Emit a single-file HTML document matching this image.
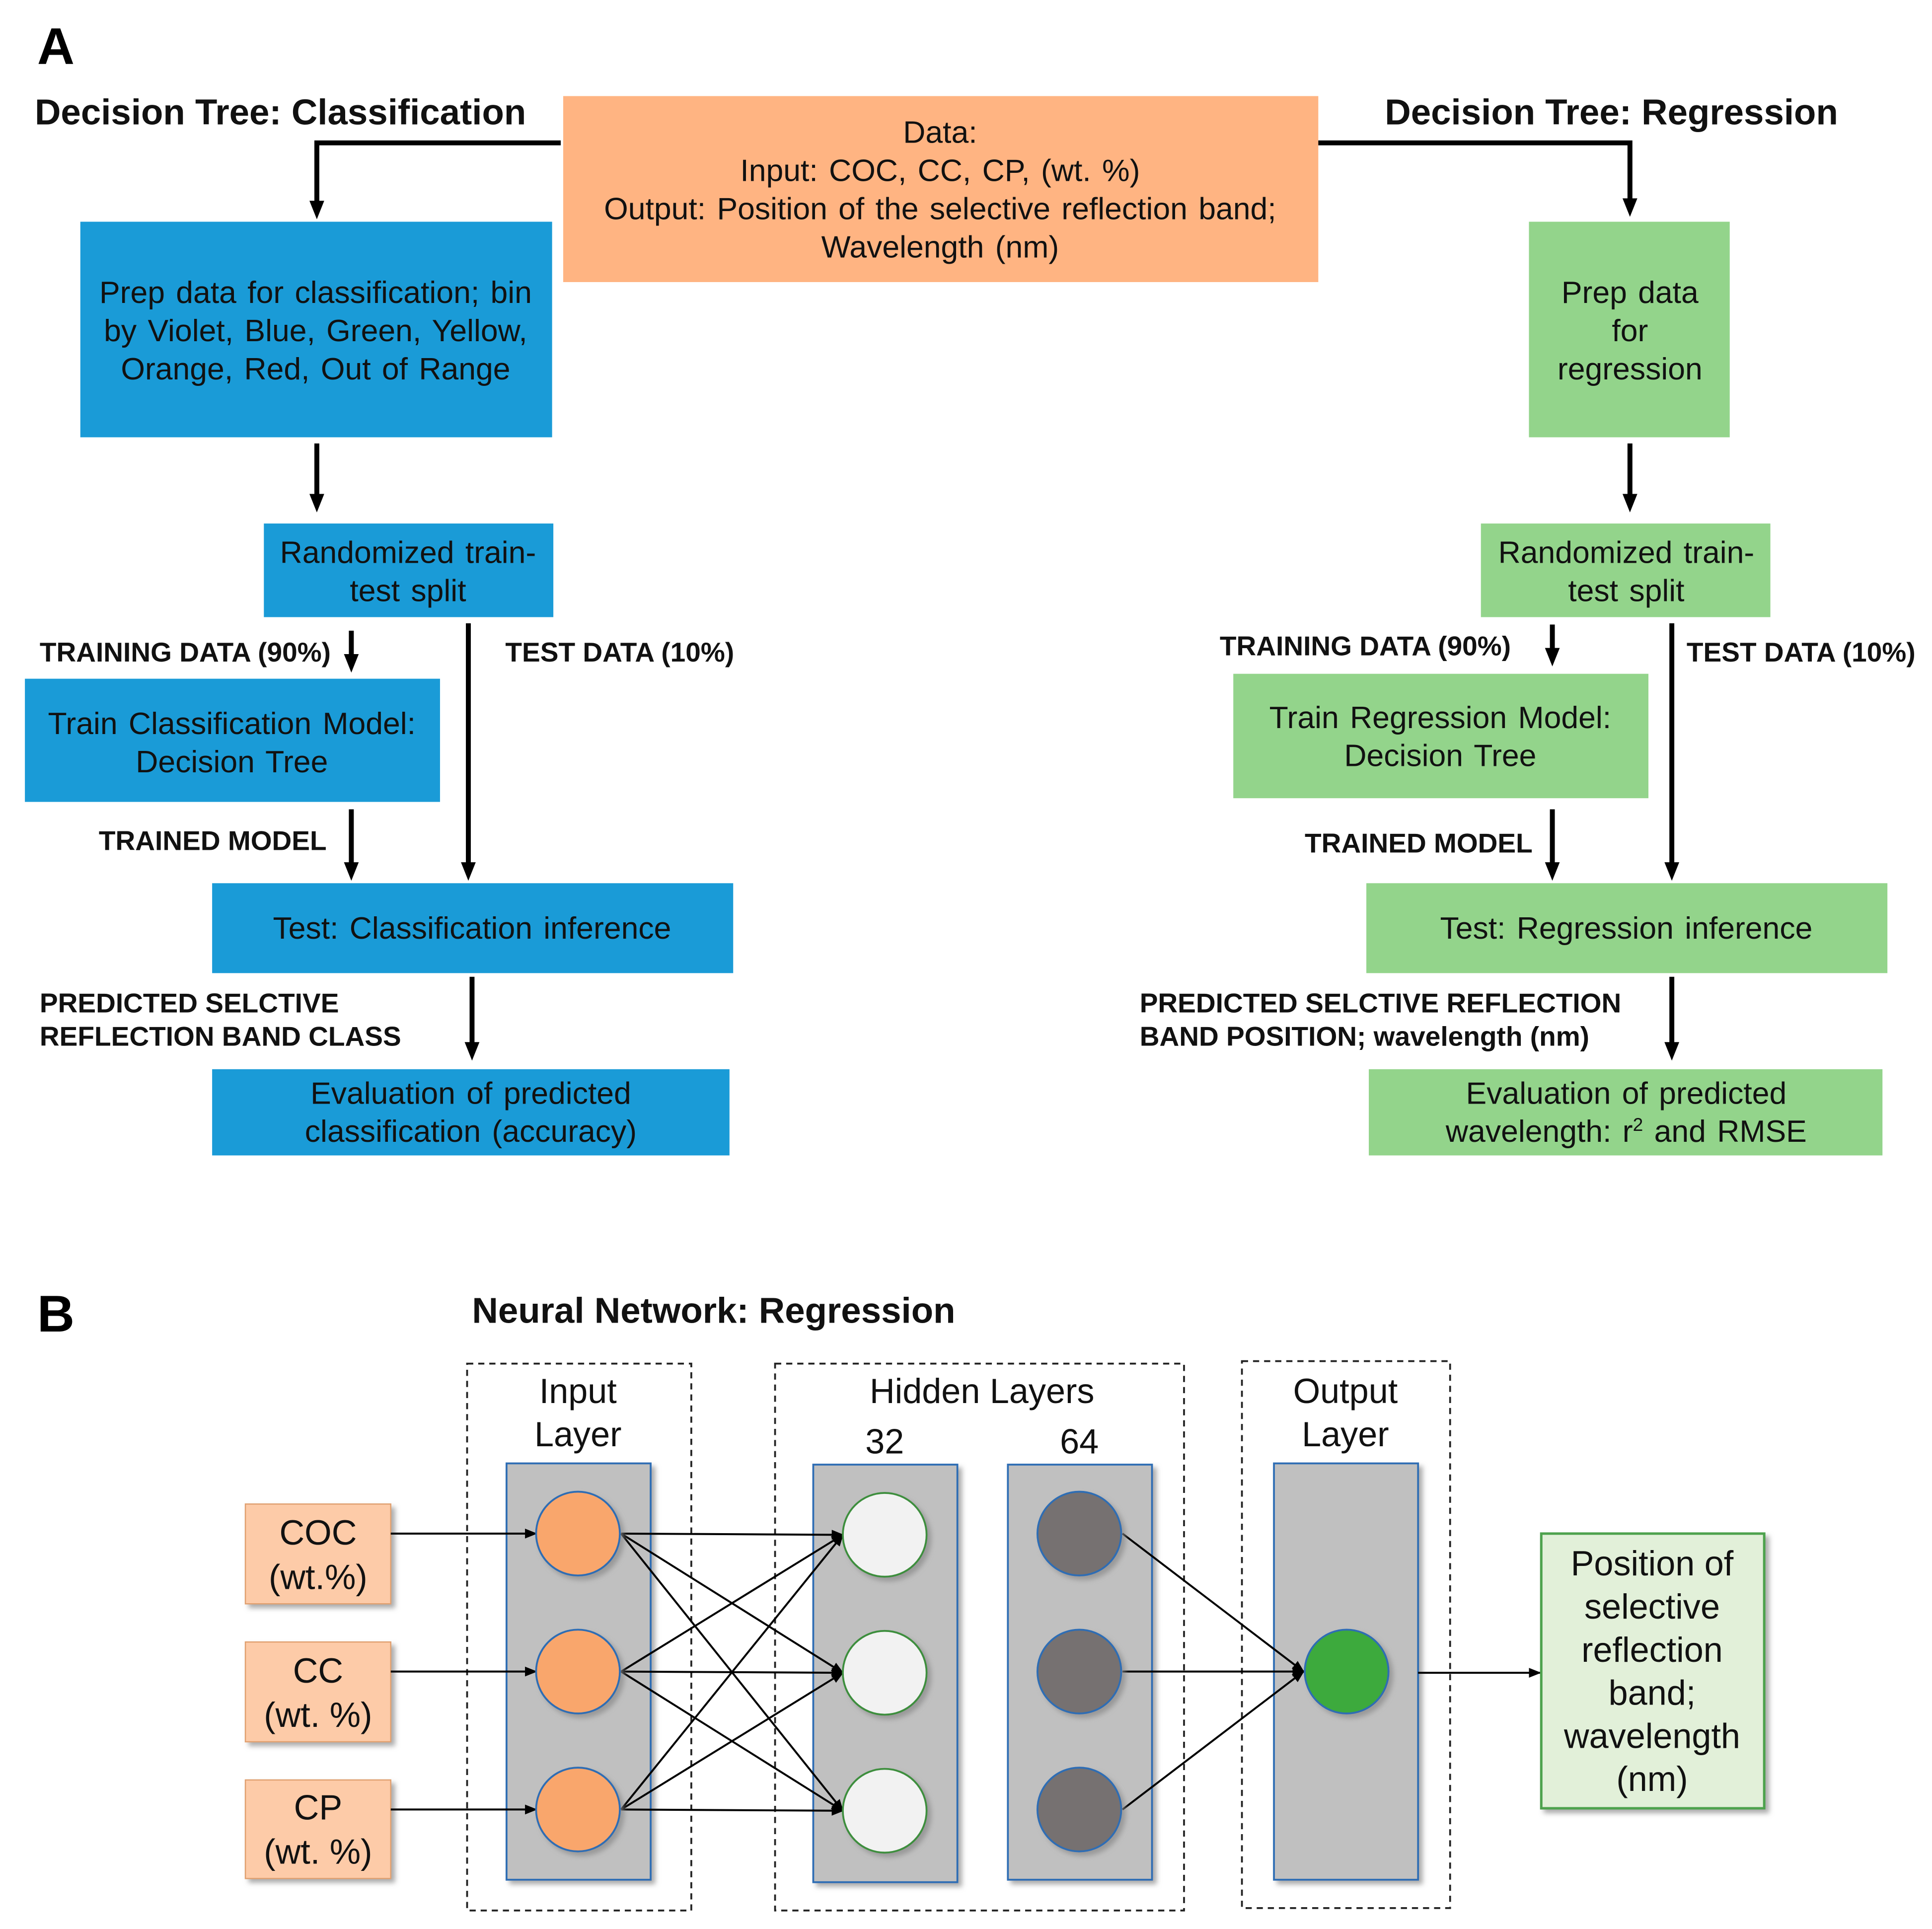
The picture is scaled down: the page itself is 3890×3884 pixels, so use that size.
<!DOCTYPE html>
<html><head><meta charset="utf-8"><style>
html,body{margin:0;padding:0;background:#fff;}
svg{display:block;}
text{font-family:"Liberation Sans",Arial,sans-serif;}
.t{font-size:25.2px;fill:#111;text-anchor:middle;word-spacing:2px;}
.b{font-size:22.2px;font-weight:bold;fill:#111;}
.h{font-size:29.3px;font-weight:bold;fill:#111;}
.n{font-size:28.3px;fill:#111;text-anchor:middle;}
</style></head><body>
<svg width="3890" height="3884" viewBox="0 0 1568 1566" xmlns="http://www.w3.org/2000/svg">
<defs>
<marker id="as" markerWidth="10" markerHeight="10" refX="9" refY="5" orient="auto" markerUnits="userSpaceOnUse"><path d="M0,1 L10,5 L0,9 z" fill="#000"/></marker>
<filter id="sh" x="-10%" y="-10%" width="130%" height="130%"><feDropShadow dx="3" dy="3" stdDeviation="2" flood-color="#888" flood-opacity="0.7"/></filter>
</defs>
<rect width="1568" height="1566" fill="#fff"/>
<text x="30" y="52" style="font-size:42px;font-weight:bold">A</text>
<text x="28" y="101" class="h">Decision Tree: Classification</text>
<text x="1124" y="101" class="h">Decision Tree: Regression</text>
<rect x="457" y="78" width="613" height="151" fill="#FFB482"/>
<text class="t" x="763" y="116">Data:</text>
<text class="t" x="763" y="147">Input: COC, CC, CP, (wt. %)</text>
<text class="t" x="763" y="178">Output: Position of the selective reflection band;</text>
<text class="t" x="763" y="209">Wavelength (nm)</text>
<g stroke="#000" stroke-width="4" fill="none">
<polyline points="455,116 257,116 257,165"/>
<polyline points="1070,116 1323,116 1323,163"/>
<line x1="257" y1="360" x2="257" y2="403"/>
<line x1="1323" y1="360" x2="1323" y2="403"/>
<line x1="285" y1="512" x2="285" y2="533"/>
<line x1="380" y1="506" x2="380" y2="702"/>
<line x1="285" y1="657" x2="285" y2="702"/>
<line x1="383" y1="793" x2="383" y2="848"/>
<line x1="1260" y1="507" x2="1260" y2="528"/>
<line x1="1357" y1="506" x2="1357" y2="702"/>
<line x1="1260" y1="657" x2="1260" y2="702"/>
<line x1="1357" y1="793" x2="1357" y2="848"/>
</g>
<g fill="#000">
<path d="M251,163 L263,163 L257,178 z"/>
<path d="M1317,161 L1329,161 L1323,176 z"/>
<path d="M251,401 L263,401 L257,416 z"/>
<path d="M1317,401 L1329,401 L1323,416 z"/>
<path d="M279,531 L291,531 L285,546 z"/>
<path d="M374,700 L386,700 L380,715 z"/>
<path d="M279,700 L291,700 L285,715 z"/>
<path d="M377,846 L389,846 L383,861 z"/>
<path d="M1254,526 L1266,526 L1260,541 z"/>
<path d="M1351,700 L1363,700 L1357,715 z"/>
<path d="M1254,700 L1266,700 L1260,715 z"/>
<path d="M1351,846 L1363,846 L1357,861 z"/>
</g>
<g fill="#1A9BD7">
<rect x="65" y="180" width="383" height="175"/>
<rect x="214" y="425" width="235" height="76"/>
<rect x="20" y="551" width="337" height="100"/>
<rect x="172" y="717" width="423" height="73"/>
<rect x="172" y="868" width="420" height="70"/>
</g>
<g fill="#93D48B">
<rect x="1241" y="180" width="163" height="175"/>
<rect x="1202" y="425" width="235" height="76"/>
<rect x="1001" y="547" width="337" height="101"/>
<rect x="1109" y="717" width="423" height="73"/>
<rect x="1111" y="868" width="417" height="70"/>
</g>
<text class="t" x="256" y="246">Prep data for classification; bin</text>
<text class="t" x="256" y="277">by Violet, Blue, Green, Yellow,</text>
<text class="t" x="256" y="308">Orange, Red, Out of Range</text>
<text class="t" x="1323" y="246">Prep data</text>
<text class="t" x="1323" y="277">for</text>
<text class="t" x="1323" y="308">regression</text>
<text class="t" x="331" y="457">Randomized train-</text>
<text class="t" x="331" y="488">test split</text>
<text class="t" x="1320" y="457">Randomized train-</text>
<text class="t" x="1320" y="488">test split</text>
<text class="b" x="32" y="537">TRAINING DATA (90%)</text>
<text class="b" x="410" y="537">TEST DATA (10%)</text>
<text class="b" x="990" y="532">TRAINING DATA (90%)</text>
<text class="b" x="1369" y="537">TEST DATA (10%)</text>
<text class="t" x="188" y="596">Train Classification Model:</text>
<text class="t" x="188" y="627">Decision Tree</text>
<text class="t" x="1169" y="591">Train Regression Model:</text>
<text class="t" x="1169" y="622">Decision Tree</text>
<text class="b" x="80" y="690">TRAINED MODEL</text>
<text class="b" x="1059" y="692">TRAINED MODEL</text>
<text class="t" x="383" y="762">Test: Classification inference</text>
<text class="t" x="1320" y="762">Test: Regression inference</text>
<text class="b" x="32" y="822">PREDICTED SELCTIVE</text>
<text class="b" x="32" y="849">REFLECTION BAND CLASS</text>
<text class="b" x="925" y="822">PREDICTED SELCTIVE REFLECTION</text>
<text class="b" x="925" y="849">BAND POSITION; wavelength (nm)</text>
<text class="t" x="382" y="896">Evaluation of predicted</text>
<text class="t" x="382" y="927">classification (accuracy)</text>
<text class="t" x="1320" y="896">Evaluation of predicted</text>
<text class="t" x="1320" y="927">wavelength: r<tspan dy="-9" style="font-size:15px">2</tspan><tspan dy="9"> and RMSE</tspan></text>
<text x="30" y="1081" style="font-size:42px;font-weight:bold">B</text>
<text x="383" y="1074" class="h">Neural Network: Regression</text>
<g fill="none" stroke="#222" stroke-width="1.5" stroke-dasharray="5,4">
<rect x="379" y="1107" width="182" height="444"/>
<rect x="629" y="1107" width="332" height="444"/>
<rect x="1008" y="1105" width="169" height="444"/>
</g>
<text class="n" x="469" y="1139">Input</text>
<text class="n" x="469" y="1174">Layer</text>
<text class="n" x="797" y="1139">Hidden Layers</text>
<text class="n" x="718" y="1180">32</text>
<text class="n" x="876" y="1180">64</text>
<text class="n" x="1092" y="1139">Output</text>
<text class="n" x="1092" y="1174">Layer</text>
<g fill="#C0C0C0" stroke="#2E6DB4" stroke-width="1.5" filter="url(#sh)">
<rect x="411" y="1188" width="117" height="338"/>
<rect x="660" y="1189" width="117" height="339"/>
<rect x="818" y="1189" width="117" height="337"/>
<rect x="1034" y="1188" width="117" height="338"/>
</g>
<g fill="#FDCBA8" stroke="#E0A070" stroke-width="1" filter="url(#sh)">
<rect x="199" y="1221" width="118" height="81"/>
<rect x="199" y="1333" width="118" height="81"/>
<rect x="199" y="1445" width="118" height="80"/>
</g>
<text class="n" x="258" y="1254">COC</text>
<text class="n" x="258" y="1290">(wt.%)</text>
<text class="n" x="258" y="1366">CC</text>
<text class="n" x="258" y="1402">(wt. %)</text>
<text class="n" x="258" y="1477">CP</text>
<text class="n" x="258" y="1513">(wt. %)</text>
<g stroke="#000" stroke-width="1.6" fill="none" marker-end="url(#as)">
<line x1="317" y1="1245" x2="435" y2="1245"/>
<line x1="317" y1="1357" x2="435" y2="1357"/>
<line x1="317" y1="1469" x2="435" y2="1469"/>
<line x1="504" y1="1245" x2="684" y2="1246"/>
<line x1="504" y1="1245" x2="684" y2="1358"/>
<line x1="504" y1="1245" x2="684" y2="1470"/>
<line x1="504" y1="1357" x2="684" y2="1246"/>
<line x1="504" y1="1357" x2="684" y2="1358"/>
<line x1="504" y1="1357" x2="684" y2="1470"/>
<line x1="504" y1="1469" x2="684" y2="1246"/>
<line x1="504" y1="1469" x2="684" y2="1358"/>
<line x1="504" y1="1469" x2="684" y2="1470"/>
<line x1="911" y1="1245" x2="1058" y2="1357"/>
<line x1="911" y1="1357" x2="1058" y2="1357"/>
<line x1="911" y1="1469" x2="1058" y2="1357"/>
<line x1="1151" y1="1358" x2="1250" y2="1358"/>
</g>
<g stroke-width="1.5" filter="url(#sh)">
<circle cx="469" cy="1245" r="34" fill="#F9A66C" stroke="#2E6DB4"/>
<circle cx="469" cy="1357" r="34" fill="#F9A66C" stroke="#2E6DB4"/>
<circle cx="469" cy="1469" r="34" fill="#F9A66C" stroke="#2E6DB4"/>
<circle cx="718" cy="1246" r="34" fill="#F2F2F2" stroke="#3E8E3E"/>
<circle cx="718" cy="1358" r="34" fill="#F2F2F2" stroke="#3E8E3E"/>
<circle cx="718" cy="1470" r="34" fill="#F2F2F2" stroke="#3E8E3E"/>
<circle cx="876" cy="1245" r="34" fill="#767171" stroke="#2E6DB4"/>
<circle cx="876" cy="1357" r="34" fill="#767171" stroke="#2E6DB4"/>
<circle cx="876" cy="1469" r="34" fill="#767171" stroke="#2E6DB4"/>
<circle cx="1093" cy="1357" r="34" fill="#3DAA3D" stroke="#2E6DB4"/>
</g>
<rect x="1251" y="1245" width="181" height="223" fill="#E2F0D9" stroke="#4EA24E" stroke-width="2" filter="url(#sh)"/>
<text class="n" x="1341" y="1279">Position of</text>
<text class="n" x="1341" y="1314">selective</text>
<text class="n" x="1341" y="1349">reflection</text>
<text class="n" x="1341" y="1384">band;</text>
<text class="n" x="1341" y="1419">wavelength</text>
<text class="n" x="1341" y="1454">(nm)</text>
</svg>
</body></html>
